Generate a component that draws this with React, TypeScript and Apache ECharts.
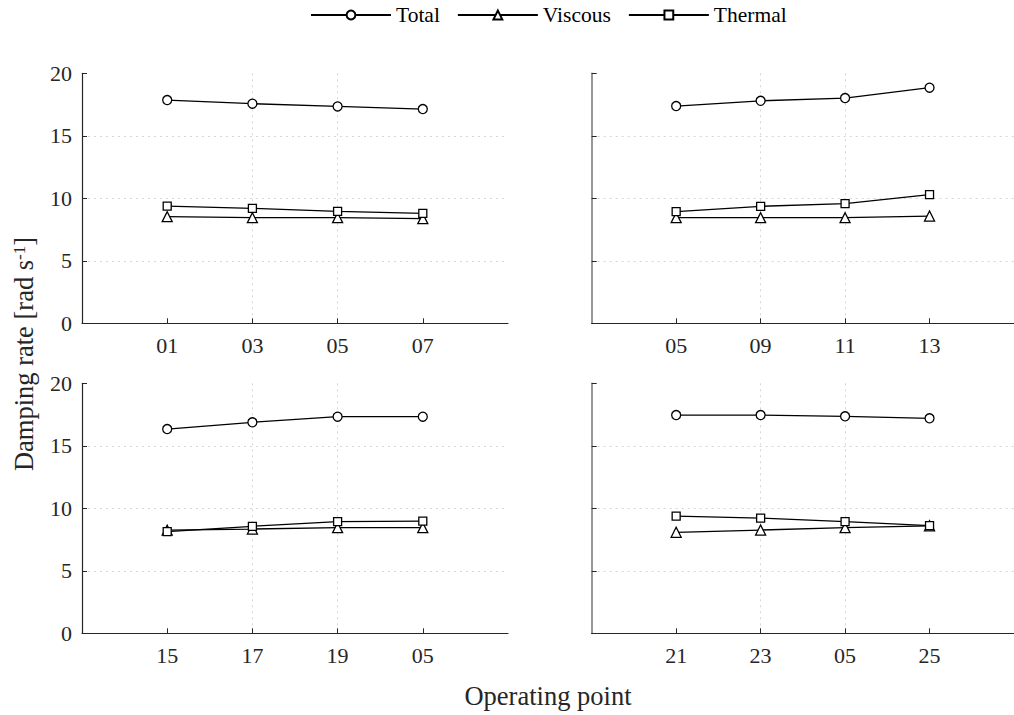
import React, { useEffect, useRef } from "react";
import * as echarts from "echarts";

const seriesNames = ["Total", "Viscous", "Thermal"];

const catsA = ["01", "03", "05", "07"];
const totalA = [17.86, 17.57, 17.35, 17.14];
const viscousA = [8.53, 8.45, 8.45, 8.37];
const thermalA = [9.38, 9.2, 8.96, 8.8];

const catsB = ["05", "09", "11", "13"];
const totalB = [17.38, 17.8, 18.02, 18.85];
const viscousB = [8.45, 8.45, 8.45, 8.58];
const thermalB = [8.93, 9.36, 9.57, 10.29];

const catsC = ["15", "17", "19", "05"];
const totalC = [16.34, 16.88, 17.33, 17.33];
const viscousC = [8.25, 8.34, 8.45, 8.45];
const thermalC = [8.13, 8.56, 8.93, 8.98];

const catsD = ["21", "23", "05", "25"];
const totalD = [17.46, 17.46, 17.36, 17.2];
const viscousD = [8.08, 8.26, 8.45, 8.6];
const thermalD = [9.38, 9.22, 8.93, 8.61];

const yTicks = [0, 5, 10, 15, 20];

const panels = [
  { cats: catsA, total: totalA, viscous: viscousA, thermal: thermalA },
  { cats: catsB, total: totalB, viscous: viscousB, thermal: thermalB },
  { cats: catsC, total: totalC, viscous: viscousC, thermal: thermalC },
  { cats: catsD, total: totalD, viscous: viscousD, thermal: thermalD },
];

const FONT = "Liberation Serif";
const TXT = "#262626";

export default function App() {
  const ref = useRef<HTMLDivElement>(null);
  useEffect(() => {
    if (!ref.current) return;
    const chart = echarts.init(ref.current, undefined, { renderer: "svg" });
    const lefts = [82, 591.7, 82, 591.7];
    const tops = [73.3, 73.3, 383.3, 383.3];
    const grids = lefts.map((l, i) => ({
      left: l,
      top: tops[i],
      width: 426,
      height: 250,
      containLabel: false,
    }));
    const gridLine = { show: true, showMinLine: false, showMaxLine: false, lineStyle: { color: "#d6d6d6", width: 1, type: [2, 4] } };
    const xAxes = panels.map((p, i) => ({
      type: "value",
      gridIndex: i,
      min: 0,
      max: 5,
      interval: 1,
      axisLine: { show: true, onZero: false, lineStyle: { color: TXT, width: 1.2 } },
      axisTick: { show: true, inside: true, length: 5, customValues: [1, 2, 3, 4], lineStyle: { color: TXT } },
      axisLabel: {
        show: true,
        customValues: [1, 2, 3, 4],
        margin: 11,
        fontFamily: FONT,
        fontSize: 22,
        color: TXT,
        formatter: (v: number) => (v >= 1 && v <= 4 ? p.cats[v - 1] : ""),
      },
      splitLine: gridLine,
    }));
    const yAxes = panels.map((p, i) => ({
      type: "value",
      gridIndex: i,
      min: yTicks[0],
      max: yTicks[yTicks.length - 1],
      interval: 5,
      axisLine: { show: true, lineStyle: { color: i % 2 === 0 ? TXT : "#8c8c8c", width: i % 2 === 0 ? 1.2 : 1.8 } },
      axisTick: { show: true, inside: true, length: 5, lineStyle: { color: TXT } },
      axisLabel: {
        show: i % 2 === 0,
        margin: 10,
        fontFamily: FONT,
        fontSize: 22,
        color: TXT,
      },
      splitLine: gridLine,
    }));
    const symbols = ["circle", "triangle", "rect"];
    const sizes = [9, 10, 8];
    const series: any[] = [];
    panels.forEach((p, i) => {
      const vals = [p.total, p.viscous, p.thermal];
      vals.forEach((v, k) => {
        series.push({
          type: "line",
          name: seriesNames[k],
          xAxisIndex: i,
          yAxisIndex: i,
          data: v.map((y, j) => [j + 1, y]),
          symbol: symbols[k],
          symbolSize: sizes[k],
          showAllSymbol: true,
          lineStyle: { color: "#000", width: 1.3 },
          itemStyle: { color: "#fff", borderColor: "#000", borderWidth: 1.3 },
          z: 2 + k,
        });
      });
    });
    chart.setOption({
      animation: false,
      backgroundColor: "#fff",
      legend: {
        data: seriesNames,
        left: 310,
        top: 4,
        padding: 0,
        itemWidth: 80,
        itemHeight: 11,
        itemGap: 17,
        textStyle: { fontFamily: FONT, fontSize: 21.5, color: "#000" },
        selectedMode: false,
      },
      grid: grids,
      xAxis: xAxes,
      yAxis: yAxes,
      series,
      graphic: [
        {
          type: "text",
          x: 24,
          y: 354,
          rotation: Math.PI / 2,
          style: {
            text: "Damping rate [rad s{sup|-1}]",
            fontFamily: FONT,
            fontSize: 26.5,
            fill: TXT,
            align: "center",
            verticalAlign: "middle",
            rich: {
              sup: { fontFamily: FONT, fontSize: 17, fill: TXT, verticalAlign: "top", lineHeight: 26 },
            },
          },
        },
        {
          type: "text",
          x: 548,
          y: 696,
          style: {
            text: "Operating point",
            fontFamily: FONT,
            fontSize: 26.5,
            fill: TXT,
            align: "center",
            verticalAlign: "middle",
          },
        },
      ],
    });
    return () => chart.dispose();
  }, []);
  return (
    <div
      ref={ref}
      style={{ position: "absolute", left: 0, top: 0, width: 1014, height: 715 }}
    />
  );
}
